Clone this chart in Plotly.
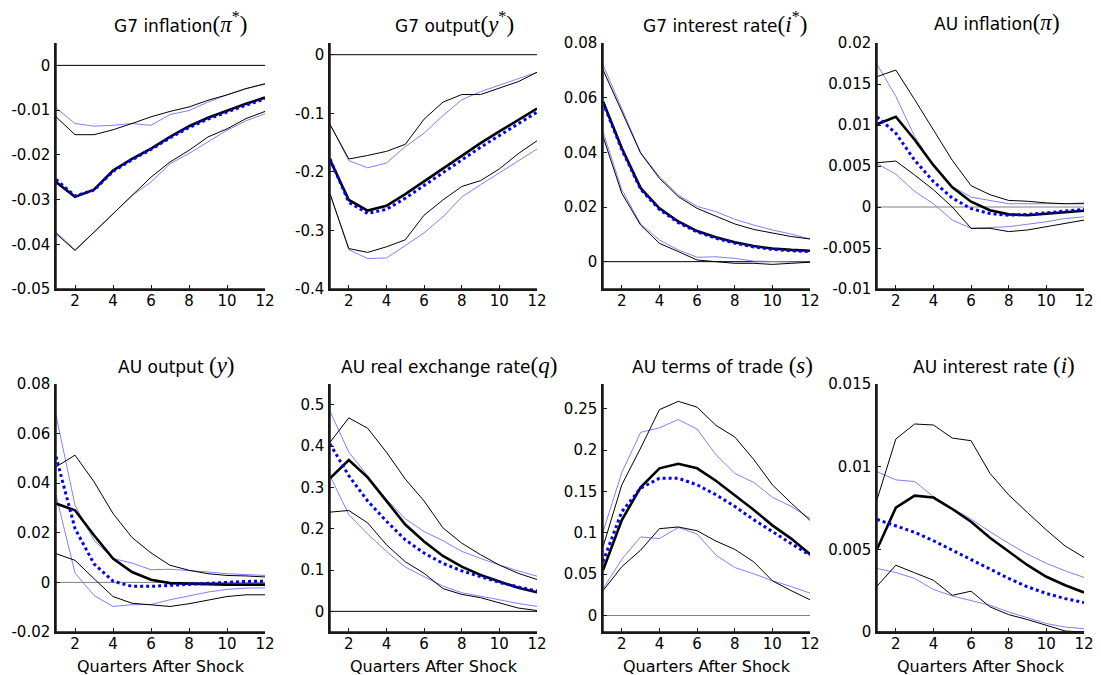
import numpy as np
import plotly.graph_objects as go

W, H = 1101, 675
quarters = list(range(1, 13))
x_ticks = [2, 4, 6, 8, 10, 12]

# ---- G7 inflation (pi*) ----
g7inf_mid = [-0.0261, -0.0294, -0.0278, -0.0235, -0.0209, -0.0186, -0.0160, -0.0136, -0.0117, -0.0101, -0.0086, -0.0072]
g7inf_hi = [-0.0115, -0.0155, -0.0155, -0.0144, -0.0130, -0.0115, -0.0103, -0.0093, -0.0078, -0.0066, -0.0052, -0.0041]
g7inf_lo = [-0.0376, -0.0414, -0.0373, -0.0332, -0.0291, -0.0250, -0.0216, -0.0190, -0.0160, -0.0142, -0.0119, -0.0103]
g7inf_alt = [-0.0255, -0.0292, -0.0279, -0.0237, -0.0211, -0.0188, -0.0162, -0.0139, -0.0120, -0.0104, -0.0089, -0.0075]
g7inf_alt_hi = [-0.0095, -0.0130, -0.0136, -0.0134, -0.0130, -0.0134, -0.0110, -0.0101, -0.0082, -0.0066, -0.0052, -0.0042]
g7inf_alt_lo = [-0.0373, -0.0412, -0.0373, -0.0332, -0.0291, -0.0261, -0.0220, -0.0197, -0.0171, -0.0145, -0.0124, -0.0108]

# ---- G7 output (y*) ----
g7out_mid = [-0.1795, -0.248, -0.266, -0.258, -0.238, -0.216, -0.194, -0.172, -0.151, -0.131, -0.111, -0.092]
g7out_hi = [-0.119, -0.178, -0.172, -0.165, -0.153, -0.110, -0.081, -0.068, -0.068, -0.057, -0.046, -0.030]
g7out_lo = [-0.2375, -0.331, -0.3375, -0.328, -0.316, -0.274, -0.248, -0.225, -0.215, -0.195, -0.169, -0.147]
g7out_alt = [-0.178, -0.252, -0.271, -0.264, -0.245, -0.223, -0.201, -0.179, -0.158, -0.138, -0.118, -0.098]
g7out_alt_hi = [-0.119, -0.181, -0.193, -0.185, -0.157, -0.134, -0.104, -0.077, -0.063, -0.052, -0.041, -0.030]
g7out_alt_lo = [-0.2375, -0.333, -0.348, -0.347, -0.326, -0.304, -0.277, -0.243, -0.222, -0.202, -0.181, -0.161]

# ---- G7 interest rate (i*) ----
g7int_mid = [0.0586, 0.0415, 0.0269, 0.0195, 0.0147, 0.0112, 0.0089, 0.0071, 0.0057, 0.0048, 0.0043, 0.0040]
g7int_hi = [0.0702, 0.0550, 0.0397, 0.0305, 0.0238, 0.0195, 0.0167, 0.0138, 0.0118, 0.0104, 0.0092, 0.0083]
g7int_lo = [0.0458, 0.0250, 0.0134, 0.0067, 0.0037, 0.0006, 0.0000, -0.0006, -0.0006, -0.0010, -0.0006, -0.0002]
g7int_alt = [0.0582, 0.0410, 0.0265, 0.0191, 0.0143, 0.0109, 0.0086, 0.0068, 0.0054, 0.0045, 0.0040, 0.0037]
g7int_alt_hi = [0.0720, 0.0562, 0.0399, 0.0311, 0.0244, 0.0202, 0.0183, 0.0155, 0.0134, 0.0116, 0.0101, 0.0083]
g7int_alt_lo = [0.0476, 0.0263, 0.0138, 0.0079, 0.0043, 0.0016, 0.0018, 0.0012, 0.0002, 0.0000, 0.0000, -0.0002]

# ---- AU inflation (pi) ----
auinf_mid = [0.0101, 0.0110, 0.0082, 0.0051, 0.0024, 0.00065, -0.0004, -0.0009, -0.0010, -0.0008, -0.0006, -0.00045]
auinf_hi = [0.0159, 0.0167, 0.0131, 0.0094, 0.0057, 0.0026, 0.0015, 0.0008, 0.0007, 0.0005, 0.0004, 0.0004]
auinf_lo = [0.0054, 0.0056, 0.0039, 0.0021, 0.0000, -0.0026, -0.0026, -0.0030, -0.0028, -0.0024, -0.0020, -0.0016]
auinf_alt = [0.0110, 0.0090, 0.0057, 0.0031, 0.0011, -0.0002, -0.0008, -0.0010, -0.0009, -0.0007, -0.0005, -0.0003]
auinf_alt_hi = [0.0174, 0.0135, 0.0086, 0.0051, 0.0025, 0.0012, 0.0008, 0.0004, 0.0004, 0.0004, 0.0004, 0.0005]
auinf_alt_lo = [0.0053, 0.0040, 0.0019, 0.0004, -0.0016, -0.0026, -0.0025, -0.0024, -0.0021, -0.0018, -0.0014, -0.0012]

# ---- AU output (y) ----
auout_mid = [0.0318, 0.0291, 0.0190, 0.0096, 0.0042, 0.0011, -0.0003, -0.0005, -0.0009, -0.0009, -0.0009, -0.0009]
auout_hi = [0.0466, 0.0513, 0.0406, 0.0278, 0.0181, 0.0119, 0.0069, 0.0049, 0.0035, 0.0028, 0.0026, 0.0022]
auout_lo = [0.0116, 0.0089, 0.0015, -0.0057, -0.0084, -0.0089, -0.0097, -0.0086, -0.0070, -0.0057, -0.0050, -0.0050]
auout_alt = [0.0507, 0.0217, 0.0075, 0.0005, -0.0016, -0.0016, -0.0012, -0.0008, -0.0003, 0.0001, 0.0004, 0.0005]
auout_alt_hi = [0.0675, 0.0311, 0.0170, 0.0096, 0.0078, 0.0051, 0.0053, 0.0049, 0.0042, 0.0035, 0.0032, 0.0028]
auout_alt_lo = [0.0352, 0.0038, -0.0053, -0.0097, -0.0090, -0.0089, -0.0070, -0.0053, -0.0039, -0.0028, -0.0023, -0.0022]

# ---- AU real exchange rate (q) ----
aurer_mid = [0.322, 0.366, 0.324, 0.267, 0.210, 0.169, 0.134, 0.108, 0.088, 0.072, 0.057, 0.046]
aurer_hi = [0.409, 0.468, 0.443, 0.385, 0.320, 0.267, 0.202, 0.165, 0.137, 0.112, 0.092, 0.077]
aurer_lo = [0.240, 0.244, 0.214, 0.161, 0.120, 0.092, 0.055, 0.041, 0.033, 0.020, 0.008, 0.002]
aurer_alt = [0.405, 0.328, 0.267, 0.218, 0.173, 0.141, 0.116, 0.098, 0.084, 0.070, 0.059, 0.049]
aurer_alt_hi = [0.484, 0.385, 0.328, 0.271, 0.224, 0.193, 0.171, 0.145, 0.128, 0.112, 0.098, 0.085]
aurer_alt_lo = [0.328, 0.234, 0.187, 0.145, 0.107, 0.085, 0.061, 0.045, 0.037, 0.028, 0.019, 0.012]

# ---- AU terms of trade (s) ----
autot_mid = [0.0547, 0.1155, 0.155, 0.178, 0.1835, 0.178, 0.163, 0.146, 0.128, 0.109, 0.093, 0.074]
autot_hi = [0.083, 0.158, 0.2025, 0.249, 0.259, 0.252, 0.230, 0.216, 0.189, 0.158, 0.136, 0.115]
autot_lo = [0.030, 0.059, 0.079, 0.105, 0.107, 0.1025, 0.090, 0.080, 0.065, 0.042, 0.030, 0.019]
autot_alt = [0.065, 0.1255, 0.154, 0.166, 0.166, 0.158, 0.146, 0.132, 0.116, 0.101, 0.087, 0.073]
autot_alt_hi = [0.101, 0.173, 0.2215, 0.227, 0.237, 0.2255, 0.1945, 0.172, 0.161, 0.143, 0.132, 0.1175]
autot_alt_lo = [0.032, 0.068, 0.095, 0.093, 0.1065, 0.0985, 0.073, 0.058, 0.0505, 0.042, 0.035, 0.027]

# ---- AU interest rate (i) ----
auint_mid = [0.0050, 0.00752, 0.00825, 0.00813, 0.00744, 0.00667, 0.0057, 0.00485, 0.00404, 0.00334, 0.00283, 0.00239]
auint_hi = [0.0080, 0.01167, 0.01258, 0.01252, 0.01173, 0.01157, 0.0096, 0.00829, 0.00722, 0.00617, 0.0052, 0.00451]
auint_lo = [0.00277, 0.00404, 0.00358, 0.00313, 0.00222, 0.00247, 0.00152, 0.00105, 0.00075, 0.0004, 0.00006, 0.0]
auint_alt = [0.00681, 0.00643, 0.00603, 0.00552, 0.00495, 0.00435, 0.00378, 0.00324, 0.00273, 0.00233, 0.00202, 0.00178]
auint_alt_hi = [0.0097, 0.0092, 0.0091, 0.00819, 0.00748, 0.00683, 0.00607, 0.00536, 0.00471, 0.00415, 0.0037, 0.0033]
auint_alt_lo = [0.00384, 0.0036, 0.00324, 0.00257, 0.00218, 0.00192, 0.00162, 0.00121, 0.00087, 0.00051, 0.0003, 0.0002]

MATH = '<span style="font-family:Liberation Serif;font-size:23px">{}</span>'
titles = [
    "G7 inflation" + MATH.format("(<i>π</i><sup>*</sup>)"),
    "G7 output" + MATH.format("(<i>y</i><sup>*</sup>)"),
    "G7 interest rate" + MATH.format("(<i>i</i><sup>*</sup>)"),
    "AU inflation" + MATH.format("(<i>π</i>)"),
    "AU output " + MATH.format("(<i>y</i>)"),
    "AU real exchange rate" + MATH.format("(<i>q</i>)"),
    "AU terms of trade " + MATH.format("(<i>s</i>)"),
    "AU interest rate " + MATH.format("(<i>i</i>)"),
]

panels = [
    (g7inf_mid, g7inf_hi, g7inf_lo, g7inf_alt, g7inf_alt_hi, g7inf_alt_lo),
    (g7out_mid, g7out_hi, g7out_lo, g7out_alt, g7out_alt_hi, g7out_alt_lo),
    (g7int_mid, g7int_hi, g7int_lo, g7int_alt, g7int_alt_hi, g7int_alt_lo),
    (auinf_mid, auinf_hi, auinf_lo, auinf_alt, auinf_alt_hi, auinf_alt_lo),
    (auout_mid, auout_hi, auout_lo, auout_alt, auout_alt_hi, auout_alt_lo),
    (aurer_mid, aurer_hi, aurer_lo, aurer_alt, aurer_alt_hi, aurer_alt_lo),
    (autot_mid, autot_hi, autot_lo, autot_alt, autot_alt_hi, autot_alt_lo),
    (auint_mid, auint_hi, auint_lo, auint_alt, auint_alt_hi, auint_alt_lo),
]

y_ranges = [(-0.05, 0.005), (-0.4, 0.02), (-0.01, 0.08), (-0.01, 0.02),
            (-0.02, 0.08), (-0.05, 0.55), (-0.02, 0.28), (0, 0.015)]
y_dticks = [0.01, 0.1, 0.02, 0.005, 0.02, 0.1, 0.05, 0.005]
zero_colors = ["black", "black", "black", "#808080", "#808080", "black", "#808080", "black"]

# pixel layout of the 2x4 grid
col_px = [(56, 265), (330, 537), (603, 810), (877, 1084)]
row_px = [(43, 289), (384, 632)]
title_cx = [181, 454, 725, 997, 177, 449, 722, 994]
title_cy = [22, 365]

LIGHT_BLUE = "rgb(128,128,255)"
AXIS_COLOR = "#1a1a1a"
FONT = "DejaVu Sans"


def y_tick_values(lo, hi, step):
    """Multiples of step inside [lo, hi], labelled with a plain hyphen minus."""
    first = np.ceil(lo / step - 1e-9)
    last = np.floor(hi / step + 1e-9)
    vals = [float(round(m * step, 10)) + 0.0 for m in np.arange(first, last + 1)]
    return vals, ["%g" % v for v in vals]


fig = go.Figure()
annotations = []
shapes = []

for k, (mid, hi, lo, alt, alt_hi, alt_lo) in enumerate(panels):
    r, c = divmod(k, 4)
    n = k + 1
    xa = "x" if n == 1 else f"x{n}"
    ya = "y" if n == 1 else f"y{n}"

    def add(yvals, color, width, dash="solid"):
        fig.add_trace(go.Scatter(x=quarters, y=yvals, mode="lines",
                                 line=dict(color=color, width=width, dash=dash),
                                 xaxis=xa, yaxis=ya, showlegend=False,
                                 hoverinfo="skip", cliponaxis=False))

    add([0] * len(quarters), zero_colors[k], 1)
    add(alt_hi, LIGHT_BLUE, 1)
    add(alt_lo, LIGHT_BLUE, 1)
    add(hi, "black", 1)
    add(lo, "black", 1)
    add(mid, "black", 2.6)
    add(alt, "blue", 3, "3px,3px")

    x0, x1 = col_px[c]
    y0, y1 = row_px[r]
    yt_vals, yt_text = y_tick_values(*y_ranges[k], y_dticks[k])
    axis_common = dict(showline=True, linecolor=AXIS_COLOR, linewidth=1.5,
                       ticks="inside", ticklen=4, tickwidth=1.2,
                       tickcolor=AXIS_COLOR, layer="above traces",
                       showgrid=False, zeroline=False,
                       tickfont=dict(family=FONT, size=15, color="black"))
    fig.update_layout(**{
        ("xaxis" if n == 1 else f"xaxis{n}"): dict(
            domain=[x0 / W, x1 / W], anchor=ya, range=[1, 12],
            tickvals=x_ticks, ticklabelstandoff=-3, **axis_common),
        ("yaxis" if n == 1 else f"yaxis{n}"): dict(
            domain=[1 - y1 / H, 1 - y0 / H], anchor=xa,
            range=list(y_ranges[k]), tickvals=yt_vals, ticktext=yt_text,
            ticklabelstandoff=1, **axis_common),
    })

    # left and bottom frame of each panel
    shapes.append(dict(type="line", xref=f"{xa} domain", yref=f"{ya} domain",
                       x0=0, x1=0, y0=0, y1=1,
                       line=dict(color=AXIS_COLOR, width=1.5)))
    shapes.append(dict(type="line", xref=f"{xa} domain", yref=f"{ya} domain",
                       x0=0, x1=1, y0=0, y1=0,
                       line=dict(color=AXIS_COLOR, width=1.5)))

    annotations.append(dict(
        text=titles[k], x=title_cx[k] / W, y=1 - title_cy[r] / H,
        xref="paper", yref="paper", xanchor="center", yanchor="middle",
        showarrow=False, font=dict(family=FONT, size=17, color="black")))

    if r == 1:
        annotations.append(dict(
            text="Quarters After Shock", x=(x0 + x1) / 2 / W, y=1 - 666 / H,
            xref="paper", yref="paper", xanchor="center", yanchor="middle",
            showarrow=False, font=dict(family=FONT, size=16, color="black")))

fig.update_layout(width=W, height=H,
                  margin=dict(l=0, r=0, t=0, b=0, pad=0, autoexpand=False),
                  paper_bgcolor="white", plot_bgcolor="white",
                  annotations=annotations, shapes=shapes)

fig.write_html("out.html")
